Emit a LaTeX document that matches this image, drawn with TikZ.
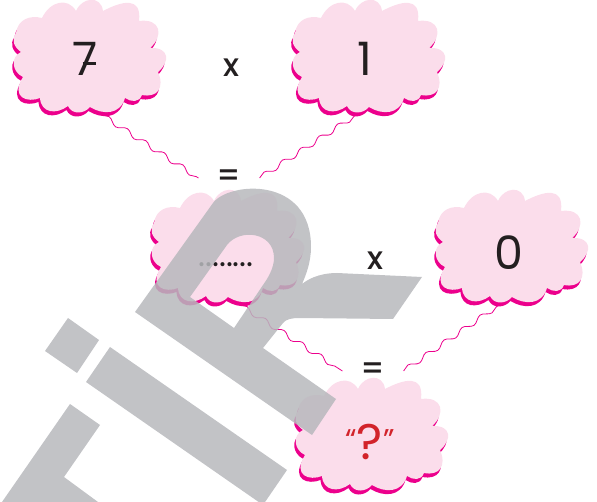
\documentclass[tikz,border=0pt]{standalone}
\usepackage{fontspec}
\setmainfont{Poppins}
\newfontfamily\signfont{Poppins Medium}
\usepackage{xcolor}
\usetikzlibrary{decorations.pathmorphing}

\definecolor{bubblepale}{HTML}{FBDDEB}
\definecolor{bubbledark}{HTML}{EC008C}
\definecolor{inkblack}{HTML}{231F20}
\definecolor{askred}{HTML}{D2232A}
\definecolor{stampgrey}{RGB}{183,184,188}

\newcommand{\bubbleoutline}{
  (16,33) .. controls (18,19) and (30,15) .. (42,18)
  .. controls (50,1) and (68,-3) .. (76,11)
  .. controls (82,-3) and (101,-5) .. (103,11)
  .. controls (122,1) and (142,-4) .. (139,21)
  .. controls (161,18) and (164,36) .. (150,48)
  .. controls (170,47) and (170,62) .. (158,72)
  .. controls (165,88) and (157,98) .. (142,95)
  .. controls (139,103) and (131,102) .. (125,98)
  .. controls (120,115) and (103,115) .. (90,107)
  .. controls (84,114) and (72,115) .. (68,106)
  .. controls (56,115) and (41,113) .. (40,98)
  .. controls (28,103) and (10,98) .. (23,77)
  .. controls (12,72) and (10,57) .. (21,52)
  .. controls (14,47) and (11,40) .. (16,33) -- cycle}

\tikzset{
  bubble/.pic={
    \fill[bubbledark,shift={(-1.5,4)}] \bubbleoutline;
    \fill[bubblepale] \bubbleoutline;
    \coordinate (-footl) at (102,115);
    \coordinate (-footr) at (77,115);
  },
  numeral/.style={font=\fontsize{46}{46}\selectfont,text=inkblack,inner sep=0pt},
  sign/.style={font=\signfont\fontsize{32}{32}\selectfont,text=inkblack,inner sep=0pt},
  equals/.style={sign,inner xsep=18pt},
  wave/.style={bubbledark,line width=0.8pt,decorate,
    decoration={snake,segment length=22pt,amplitude=2.5pt}},
  stamp/.style={fill=stampgrey,fill opacity=0.85,even odd rule}
}

\begin{document}
\begin{tikzpicture}[x=1pt,y=-1pt,node distance=140pt]
  \clip (0,0) rectangle (597,502);

  \pic (ba) at (0,0) {bubble};
  \pic (bb) at (279,0) {bubble};
  \pic (bc) at (138,190) {bubble};
  \pic (bd) at (422,190) {bubble};
  \pic (be) at (282,378) {bubble};

  \node[numeral] (seven) at (85,59) {7\llap{\rule[0.24em]{13pt}{3pt}\kern2pt}};
  \node[sign] (timesa) [right of=seven,xshift=6pt,yshift=-9pt] {x};
  \node[numeral] (one) [right of=timesa,xshift=-6pt,yshift=9pt] {1};
  \node[equals] (eqa) [below of=timesa,xshift=-2pt,yshift=30pt] {=};
  \node[sign,font=\fontsize{33}{33}\selectfont] (blank) [below of=eqa,xshift=-3pt,yshift=53pt] {........};
  \node[sign] (timesb) [right of=blank,xshift=9pt,yshift=4pt] {x};
  \node[numeral] (zero) [right of=timesb,xshift=-6pt,yshift=8pt] {0};
  \node[equals] (eqb) [below of=timesb,xshift=-2pt,yshift=30pt] {=};
  \node[numeral,text=askred] (ask) [below of=eqb,xshift=-3pt,yshift=69pt]
    {\raisebox{9pt}{\fontsize{30}{30}\selectfont “}\fontsize{50}{50}\selectfont ?\raisebox{9pt}{\fontsize{30}{30}\selectfont ”}};

  \draw[wave] (ba-footl) -- (eqa.west);
  \draw[wave] (eqa.east) -- (bb-footr);
  \draw[wave] (bc-footl) -- (eqb.west);
  \draw[wave] (eqb.east) -- (bd-footr);

  % stamp over everything
  \path[stamp] (135,312) -- (213,203) .. controls (228,182) and (311,175) .. (311,247)
    .. controls (311,262) and (306,275) .. (302,284)
    .. controls (312,276) and (325,273) .. (337,273) -- (422,277) -- (393,319) -- (300,318)
    .. controls (292,318) and (286,319) .. (283,323) -- (263,348) -- (336,399) -- (312,435) -- cycle
    (190,297) -- (227,245) .. controls (240,228) and (274,232) .. (274,258)
    .. controls (274,268) and (268,278) .. (263,285) -- (234,328) -- cycle;
  \path[stamp] (110,347) -- (287,470) -- (263,505) -- (86,382) -- cycle;
  \path[stamp] (68,318) -- (99,340) -- (77,373) -- (45,351) -- cycle;
  \path[stamp] (70,404) -- (100,425) -- (64,477) -- (98,502) -- (2,502) -- cycle;
\end{tikzpicture}
\end{document}
